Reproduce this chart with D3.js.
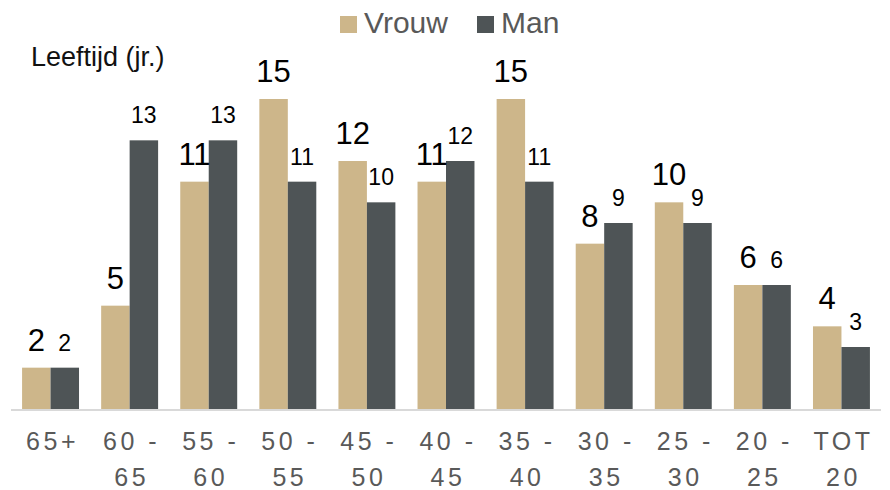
<!DOCTYPE html>
<html>
<head>
<meta charset="utf-8">
<script src="https://cdn.jsdelivr.net/npm/d3@7"></script>
<style>
  body { margin: 0; background: #fff; }
  svg { display: block; font-family: "Liberation Sans", Arial, sans-serif; }
</style>
</head>
<body>
<svg id="chart" width="890" height="490"></svg>
<script>
var categories = ["65+", "60 - 65", "55 - 60", "50 - 55", "45 - 50", "40 - 45", "35 - 40", "30 - 35", "25 - 30", "20 - 25", "TOT 20"];
var vrouw = [2, 5, 11, 15, 12, 11, 15, 8, 10, 6, 4];
var man = [2, 13, 13, 11, 10, 12, 11, 9, 9, 6, 3];
var seriesNames = ["Vrouw", "Man"];
var colors = ["#CDB68A", "#4E5456"];

var svg = d3.select("#chart");

// scales
var x = d3.scaleBand()
  .domain(categories)
  .range([11, 881])
  .paddingInner(0.28)
  .paddingOuter(0.14);

var x1 = d3.scaleBand()
  .domain(seriesNames)
  .range([0, x.bandwidth()]);

var y = d3.scaleLinear()
  .domain([0, 15])
  .range([409, 99]);

var rows = categories.map(function(c, i) {
  return { cat: c, values: [vrouw[i], man[i]] };
});

var groups = svg.selectAll("g.grp")
  .data(rows)
  .enter().append("g")
  .attr("class", "grp")
  .attr("transform", function(d) { return "translate(" + x(d.cat) + ",0)"; });

groups.selectAll("rect")
  .data(function(d) { return d.values.map(function(v, k) { return { key: seriesNames[k], v: v, k: k }; }); })
  .enter().append("rect")
  .attr("x", function(d) { return x1(d.key); })
  .attr("y", function(d) { return y(d.v); })
  .attr("width", x1.bandwidth())
  .attr("height", function(d) { return y(0) - y(d.v); })
  .style("fill", function(d) { return colors[d.k]; });

groups.selectAll("text.val")
  .data(function(d) { return d.values.map(function(v, k) { return { key: seriesNames[k], v: v, k: k }; }); })
  .enter().append("text")
  .attr("class", "val")
  .attr("x", function(d) { return x1(d.key) + x1.bandwidth() / 2; })
  .attr("y", function(d) { return y(d.v) - 17; })
  .attr("text-anchor", "middle")
  .style("font-size", function(d) { return d.k == 0 ? "31px" : "23px"; })
  .style("fill", "#000")
  .text(function(d) { return d.v; });

// axis line
svg.append("line")
  .attr("x1", 11).attr("x2", 881)
  .attr("y1", 410).attr("y2", 410)
  .style("stroke", "#D9D9D9")
  .style("stroke-width", 2);

// category labels, wrapped on the last space
var xAxis = d3.axisBottom(x).tickSize(0).tickPadding(0);
var ax = svg.append("g").attr("transform", "translate(0,410)").call(xAxis);
ax.select(".domain").remove();
ax.selectAll(".tick text").each(function(d) {
  var t = d3.select(this);
  var idx = d.lastIndexOf(" ");
  var lines = idx > 0 ? [d.slice(0, idx), d.slice(idx + 1)] : [d];
  t.text(null)
    .attr("y", 0)
    .attr("dy", null)
    .style("font-size", "25px")
    .style("letter-spacing", "3.5px")
    .style("fill", "#595959")
    .style("font-family", "\"Liberation Sans\", Arial, sans-serif");
  lines.forEach(function(l, i) {
    t.append("tspan").attr("x", 2).attr("y", 40 + i * 36).text(l);
  });
});

// y title
svg.append("text")
  .attr("x", 31)
  .attr("y", 66)
  .style("font-size", "27px")
  .style("fill", "#111")
  .text("Leeftijd (jr.)");

// legend
var legendX = [340, 477];
var leg = svg.selectAll("g.leg")
  .data(seriesNames)
  .enter().append("g")
  .attr("class", "leg")
  .attr("transform", function(d, i) { return "translate(" + legendX[i] + ",0)"; });
leg.append("rect")
  .attr("x", 0).attr("y", 16)
  .attr("width", 17).attr("height", 17)
  .style("fill", function(d, i) { return colors[i]; });
leg.append("text")
  .attr("x", 24).attr("y", 33)
  .style("font-size", "30px")
  .style("fill", "#595959")
  .text(function(d) { return d; });
</script>
</body>
</html>
